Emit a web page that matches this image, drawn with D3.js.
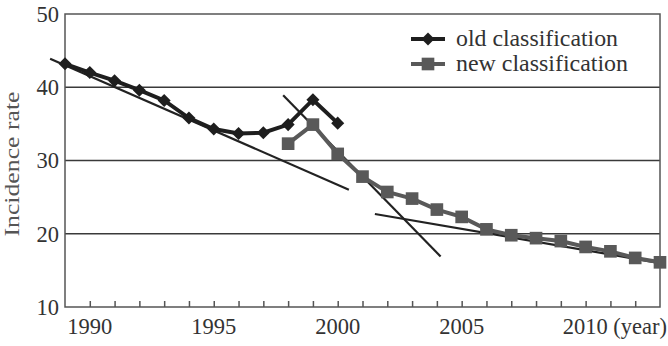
<!DOCTYPE html>
<html>
<head>
<meta charset="utf-8">
<script src="https://cdn.jsdelivr.net/npm/d3@7"></script>
<style>
  html, body { margin: 0; padding: 0; background: #fff; }
  svg text { font-family: "Liberation Serif" !important; }
</style>
</head>
<body>
<div id="chart"></div>
<script>
// data
const oldYears = [1989, 1990, 1991, 1992, 1993, 1994, 1995, 1996, 1997, 1998, 1999, 2000];
const oldValues = [43.2, 42.0, 40.9, 39.6, 38.2, 35.8, 34.3, 33.7, 33.8, 34.9, 38.3, 35.1];

const newYears = [1998, 1999, 2000, 2001, 2002, 2003, 2004, 2005, 2006, 2007, 2008, 2009, 2010, 2011, 2012, 2013];
const newValues = [32.3, 34.9, 30.9, 27.8, 25.7, 24.8, 23.3, 22.3, 20.6, 19.8, 19.4, 19.0, 18.2, 17.6, 16.7, 16.1];

// fitted trend segments: [startYear, startValue, endYear, endValue]
const trendLines = [
  [1988.4, 43.9, 2000.45, 26.0],
  [1997.8, 38.9, 2004.15, 16.9],
  [2001.5, 22.7, 2013.0, 16.0],
];

const yTicks = [10, 20, 30, 40, 50];
const xLabelYears = [1990, 1995, 2000, 2005, 2010];
const legendLabels = ["old classification", "new classification"];

const colors = {
  oldSeries: "#1e1e1e",
  newSeries: "#595959",
  trend: "#222",
  grid: "#3a3a3a",
  frame: "#555",
  text: "#333",
};

const fontFamily = "Liberation Serif";

const width = 668, height = 346;
const margin = { top: 14, right: 8, bottom: 39, left: 65 };

const x = d3.scaleLinear().domain([1989, 2013]).range([margin.left, width - margin.right]);
const y = d3.scaleLinear().domain([10, 50]).range([height - margin.bottom, margin.top]);

const svg = d3.select("#chart").append("svg")
  .attr("width", width)
  .attr("height", height)
  .attr("viewBox", [0, 0, width, height])
  .attr("font-family", fontFamily);

// gridlines
svg.append("g")
  .selectAll("line")
  .data(yTicks.filter((d) => d > 10 && d < 50))
  .join("line")
  .attr("x1", x.range()[0])
  .attr("x2", x.range()[1])
  .attr("y1", (d) => y(d))
  .attr("y2", (d) => y(d))
  .attr("stroke", colors.grid)
  .attr("stroke-width", 1.5);

// frame
svg.append("rect")
  .attr("x", x.range()[0])
  .attr("y", y(50))
  .attr("width", x.range()[1] - x.range()[0])
  .attr("height", y(10) - y(50))
  .attr("fill", "none")
  .attr("stroke", colors.frame)
  .attr("stroke-width", 1.5);

// bottom axis: small inward ticks every year
const xAxis = d3.axisBottom(x)
  .tickValues(d3.range(1990, 2013))
  .tickSize(-6)
  .tickFormat("");
svg.append("g")
  .attr("transform", `translate(0,${y(10)})`)
  .call(xAxis)
  .call((g) => g.select(".domain").remove())
  .call((g) => g.selectAll(".tick line").attr("stroke", colors.frame).attr("stroke-width", 1.5));

// x labels
svg.append("g")
  .attr("font-family", fontFamily)
  .selectAll("text")
  .data(xLabelYears)
  .join("text")
  .attr("x", (d) => (d === 2010 ? x(d) - 23 : x(d)))
  .attr("y", y(10) + 27)
  .attr("text-anchor", (d) => (d === 2010 ? "start" : "middle"))
  .style("font-family", fontFamily)
  .style("font-size", "22.5px")
  .attr("fill", colors.text)
  .text((d) => (d === 2010 ? "2010 (year)" : String(d)));

// y labels
svg.append("g")
  .attr("font-family", fontFamily)
  .selectAll("text")
  .data(yTicks)
  .join("text")
  .attr("x", x.range()[0] - 6)
  .attr("y", (d) => y(d))
  .attr("dy", "0.35em")
  .attr("text-anchor", "end")
  .style("font-family", fontFamily)
  .style("font-size", "22.5px")
  .attr("fill", colors.text)
  .text((d) => String(d));

// y title
svg.append("text")
  .attr("transform", "translate(19,164) rotate(-90)")
  .attr("text-anchor", "middle")
  .style("font-family", fontFamily)
  .style("font-size", "21px")
  .attr("textLength", 145)
  .attr("lengthAdjust", "spacingAndGlyphs")
  .attr("fill", "#555")
  .text("Incidence rate");

// trend segments
svg.append("g")
  .selectAll("line")
  .data(trendLines)
  .join("line")
  .attr("x1", (d) => x(d[0]))
  .attr("y1", (d) => y(d[1]))
  .attr("x2", (d) => x(d[2]))
  .attr("y2", (d) => y(d[3]))
  .attr("stroke", colors.trend)
  .attr("stroke-width", 2.2);

const line = d3.line().x((d) => x(d[0])).y((d) => y(d[1]));

const oldPts = oldYears.map((yr, i) => [yr, oldValues[i]]);
const newPts = newYears.map((yr, i) => [yr, newValues[i]]);

const diamond = d3.symbol().type(d3.symbolSquare).size(85);
const square = d3.symbol().type(d3.symbolSquare).size(160);

// new classification (drawn first, underneath)
svg.append("path")
  .datum(newPts)
  .attr("d", line)
  .attr("fill", "none")
  .attr("stroke", colors.newSeries)
  .attr("stroke-width", 4);
svg.append("g")
  .selectAll("path")
  .data(newPts)
  .join("path")
  .attr("transform", (d) => `translate(${x(d[0])},${y(d[1])})`)
  .attr("d", square)
  .attr("fill", colors.newSeries);

// old classification
svg.append("path")
  .datum(oldPts)
  .attr("d", line)
  .attr("fill", "none")
  .attr("stroke", colors.oldSeries)
  .attr("stroke-width", 4);
svg.append("g")
  .selectAll("path")
  .data(oldPts)
  .join("path")
  .attr("transform", (d) => `translate(${x(d[0])},${y(d[1])}) rotate(45)`)
  .attr("d", diamond)
  .attr("fill", colors.oldSeries);

// legend
const legendWidths = [162, 172];
const legend = svg.append("g").attr("transform", "translate(411,39)");
const legendRows = legend.selectAll("g")
  .data(legendLabels)
  .join("g")
  .attr("transform", (d, i) => `translate(0,${i * 25})`);
legendRows.append("line")
  .attr("x1", 0)
  .attr("x2", 34)
  .attr("stroke", (d, i) => (i === 0 ? colors.oldSeries : colors.newSeries))
  .attr("stroke-width", 4);
legendRows.append("path")
  .attr("transform", (d, i) => `translate(17,0)${i === 0 ? " rotate(45)" : ""}`)
  .attr("d", (d, i) => (i === 0 ? diamond() : square()))
  .attr("fill", (d, i) => (i === 0 ? colors.oldSeries : colors.newSeries));
legendRows.append("text")
  .attr("x", 45)
  .attr("dy", "0.32em")
  .style("font-family", fontFamily)
  .style("font-size", "23px")
  .attr("textLength", (d, i) => legendWidths[i])
  .attr("lengthAdjust", "spacingAndGlyphs")
  .attr("fill", colors.text)
  .text((d) => d);
</script>
</body>
</html>
